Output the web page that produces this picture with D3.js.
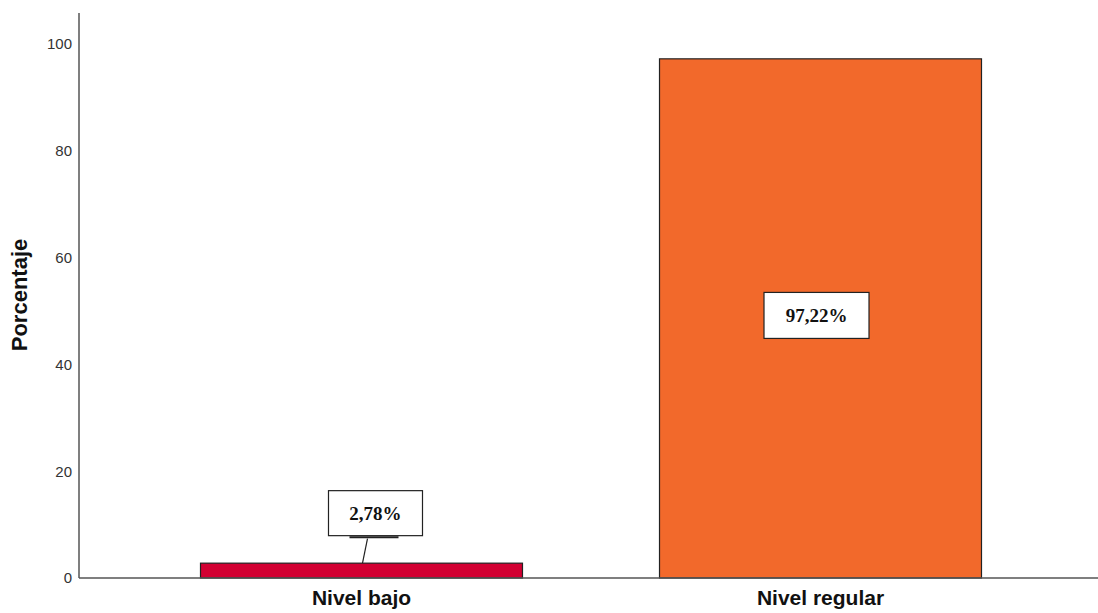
<!DOCTYPE html>
<html>
<head>
<meta charset="utf-8">
<script src="https://cdn.jsdelivr.net/npm/d3@7"></script>
<style>
  html, body { margin: 0; padding: 0; background: #fff; }
  svg { display: block; }
</style>
</head>
<body>
<svg id="chart" width="1098" height="613"></svg>
<script>
// Porcentaje por nivel
const categories = ["Nivel bajo", "Nivel regular"];
const values = [2.78, 97.22];
const labels = ["2,78%", "97,22%"];
const colors = ["#d20032", "#f2692b"];
const yTicks = [0, 20, 40, 60, 80, 100];

const svg = d3.select("#chart");
const x0 = 79, yBase = 578;

const x = d3.scaleBand()
  .domain(categories)
  .range([x0, 1103])
  .paddingInner(0.2985)
  .paddingOuter(0.2647);

const y = d3.scaleLinear()
  .domain([0, 100])
  .range([yBase, 44]);

// Bars
svg.selectAll("rect.bar")
  .data(values)
  .enter().append("rect")
  .attr("class", "bar")
  .attr("x", (d, i) => x(categories[i]))
  .attr("y", d => y(d))
  .attr("width", x.bandwidth())
  .attr("height", d => y(0) - y(d))
  .attr("fill", (d, i) => colors[i])
  .attr("stroke", "#222")
  .attr("stroke-width", 1.2);

// Y axis: line and tick labels (no tick marks)
const yAxis = d3.axisLeft(y).tickValues(yTicks).tickSize(0).tickPadding(7).tickFormat(d3.format("d"));
const gy = svg.append("g").attr("transform", `translate(${x0},0)`).call(yAxis);
gy.select(".domain").remove();
gy.selectAll("text")
  .attr("font-family", "Liberation Sans, Arial, sans-serif")
  .attr("font-size", 15)
  .attr("fill", "#333");

svg.append("line")
  .attr("x1", x0).attr("x2", x0)
  .attr("y1", 13).attr("y2", yBase)
  .attr("stroke", "#555").attr("stroke-width", 1.5);

svg.append("line")
  .attr("x1", x0).attr("x2", 1098)
  .attr("y1", yBase).attr("y2", yBase)
  .attr("stroke", "#555").attr("stroke-width", 1.5);

// Category labels
const xAxis = d3.axisBottom(x).tickSize(0).tickPadding(12);
const gx = svg.append("g").attr("transform", `translate(0,${yBase})`).call(xAxis);
gx.select(".domain").remove();
gx.selectAll("text")
  .attr("font-family", "Liberation Sans, Arial, sans-serif")
  .attr("font-size", 21)
  .attr("font-weight", "bold")
  .attr("fill", "#111");

// Y axis title
svg.append("text")
  .attr("transform", `translate(27,295) rotate(-90)`)
  .attr("text-anchor", "middle")
  .attr("font-family", "Liberation Sans, Arial, sans-serif")
  .attr("font-size", 22)
  .attr("font-weight", "bold")
  .attr("fill", "#111")
  .text("Porcentaje");

// Value labels
function valueBox(cx, cy, w, h, text) {
  const g = svg.append("g");
  g.append("rect")
    .attr("x", cx - w / 2).attr("y", cy - h / 2)
    .attr("width", w).attr("height", h)
    .attr("fill", "#fff").attr("stroke", "#222").attr("stroke-width", 1.2);
  g.append("text")
    .attr("x", cx).attr("y", cy + 7)
    .attr("text-anchor", "middle")
    .attr("font-family", "Liberation Serif, Times New Roman, serif")
    .attr("font-size", 19)
    .attr("font-weight", "bold")
    .attr("fill", "#111")
    .text(text);
  return g;
}

// Small bar: label above with a leader line
const c0 = x(categories[0]) + x.bandwidth() / 2;
const top0 = y(values[0]);
const b0 = { cx: c0 + 14, cy: top0 - 50, w: 94, h: 45 };
svg.append("line")
  .attr("x1", b0.cx - 26).attr("x2", b0.cx + 23)
  .attr("y1", b0.cy + b0.h / 2 + 1.5).attr("y2", b0.cy + b0.h / 2 + 1.5)
  .attr("stroke", "#222").attr("stroke-width", 2);
svg.append("line")
  .attr("x1", b0.cx - 8).attr("y1", b0.cy + b0.h / 2 + 3)
  .attr("x2", c0 + 1).attr("y2", top0)
  .attr("stroke", "#222").attr("stroke-width", 1.2);
valueBox(b0.cx, b0.cy, b0.w, b0.h, labels[0]);

// Tall bar: label centred inside
const c1 = x(categories[1]) + x.bandwidth() / 2;
valueBox(c1 - 4, (y(values[1]) + y(0)) / 2 - 3, 105, 46, labels[1]);
</script>
</body>
</html>
